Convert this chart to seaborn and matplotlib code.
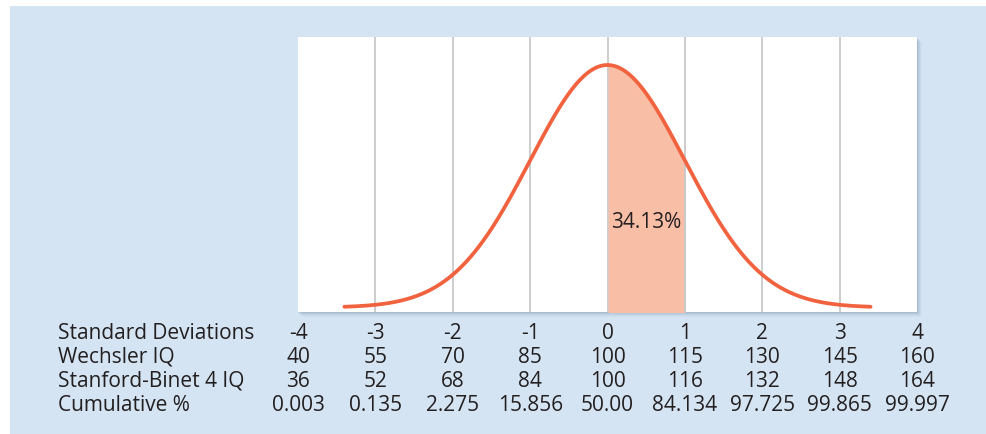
import numpy as np
import matplotlib
matplotlib.use("Agg")
import matplotlib.pyplot as plt
import matplotlib.transforms as mtransforms
from matplotlib.patches import Rectangle
import seaborn as sns

# --- data ---
row_labels = ["Standard Deviations", "Wechsler IQ", "Stanford-Binet 4 IQ", "Cumulative %"]
std_devs = [-4, -3, -2, -1, 0, 1, 2, 3, 4]
wechsler = ["40", "55", "70", "85", "100", "115", "130", "145", "160"]
stanford = ["36", "52", "68", "84", "100", "116", "132", "148", "164"]
cumulative = ["0.003", "0.135", "2.275", "15.856", "50.00", "84.134", "97.725", "99.865", "99.997"]
shade_from, shade_to = 0, 1
shade_label = "34.13%"
curve_mean, curve_sd = 0.0, 1.0
curve_range = (-3.4, 3.4)

# normal curve (the chart shows the standard normal density)
xs = np.linspace(curve_range[0], curve_range[1], 400)
ys = np.exp(-0.5 * ((xs - curve_mean) / curve_sd) ** 2) / (curve_sd * np.sqrt(2 * np.pi))

sns.set_theme(style="white")
plt.rcParams["font.family"] = ["Open Sans", "DejaVu Sans"]
FS = 15

W, H = 986, 435
fig = plt.figure(figsize=(W / 100, H / 100), dpi=100)
fig.patch.set_facecolor("white")

# light blue panel
fig.patches.append(Rectangle((10 / W, 0), 1, 1 - 7 / H, transform=fig.transFigure,
                             facecolor="#d4e4f3", edgecolor="none", zorder=-3))

left, right, top, bottom = 298, 917, 38, 313
ax = fig.add_axes([left / W, 1 - bottom / H, (right - left) / W, (bottom - top) / H])

# soft shadow behind the white plot area
for i, a in enumerate([0.10, 0.08, 0.06, 0.04, 0.03]):
    off = i + 1
    fig.patches.append(Rectangle(((left + off - 1) / W, 1 - (bottom + off) / H),
                                 (right - left + 1) / W, (bottom - top) / H,
                                 transform=fig.transFigure, facecolor="#3a5a80",
                                 alpha=a, edgecolor="none", zorder=-2))

ax.set_facecolor("white")
ax.set_xlim(-4, 4)
ax.set_ylim(-0.0074, 0.445)

for x in range(-3, 4):
    ax.axvline(x, color="#c9c9c9", lw=1.3, zorder=1)

mask = (xs >= shade_from) & (xs <= shade_to)
ax.fill_between(xs[mask], -0.01, ys[mask], color="#f9bea6", lw=0, zorder=2)
ax.axvline(shade_to, ymax=(0.242 + 0.0074) / 0.4524, color="#c9c9c9", lw=1.3, zorder=2.5)

sns.lineplot(x=xs, y=ys, ax=ax, color="#f1623f", lw=2.7, zorder=3)
ax.text((shade_from + shade_to) / 2, 0.142, shade_label, ha="center", va="center",
        fontsize=FS, color="#231f20", zorder=4)

ax.set_xticks([])
ax.set_yticks([])
for s in ax.spines.values():
    s.set_visible(False)

# table under the chart
trans = mtransforms.blended_transform_factory(ax.transData, fig.transFigure)
rows = [[str(v) for v in std_devs], wechsler, stanford, cumulative]
baselines = [339, 363, 387, 411]
for label, vals, yb in zip(row_labels, rows, baselines):
    fig.text(58 / W, 1 - yb / H, label, ha="left", va="baseline",
             fontsize=FS, color="#231f20")
    for x, v in zip(std_devs, vals):
        ax.text(x, 1 - yb / H, v, transform=trans, ha="center", va="baseline",
                fontsize=FS, color="#231f20", clip_on=False)

fig.savefig("out.png", dpi=100)
